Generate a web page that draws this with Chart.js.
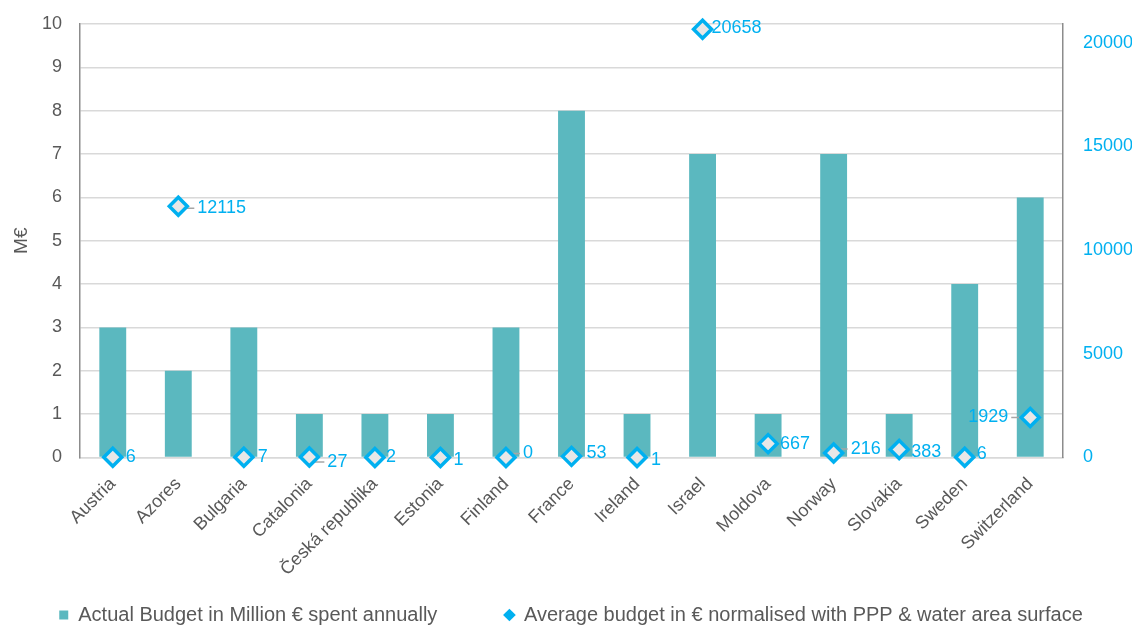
<!DOCTYPE html>
<html>
<head>
<meta charset="utf-8">
<script src="https://cdn.jsdelivr.net/npm/chart.js@4"></script>
<style>
  html, body { margin: 0; padding: 0; background: #ffffff; }
  #wrap { width: 1147px; height: 628px; position: relative; }
</style>
</head>
<body>
<div id="wrap"><canvas id="c" width="1147" height="628"></canvas></div>
<script>
const categories = ["Austria", "Azores", "Bulgaria", "Catalonia", "Česká republika", "Estonia", "Finland", "France", "Ireland", "Israel", "Moldova", "Norway", "Slovakia", "Sweden", "Switzerland"];
const actualBudget = [3, 2, 3, 1, 1, 1, 3, 8, 1, 7, 1, 7, 1, 4, 6];
const normalisedBudget = [6, 12115, 7, 27, 2, 1, 0, 53, 1, 20658, 667, 216, 383, 6, 1929];
const leftTicks = [0, 1, 2, 3, 4, 5, 6, 7, 8, 9, 10];
const rightTicks = [0, 5000, 10000, 15000, 20000];
const barLabel = "Actual Budget in Million € spent annually";
const pointLabel = "Average budget in € normalised with PPP & water area surface";

// label placement relative to each marker (dx, dy, align, leader line)
const labelOffsets = [
  [13, 0, 'left', false], [19, 2, 'left', true], [14, 0, 'left', false], [18, 5, 'left', true], [11, 0, 'left', false],
  [13, 3, 'left', false], [17, -4, 'left', true], [15, -3, 'left', false], [14, 3, 'left', false], [9, -1, 'left', false],
  [12, 0, 'left', false], [17, -4, 'left', true], [12, 3, 'left', false], [12, -3, 'left', false], [-22, 0, 'right', true]
];

const BLUE = '#00B0F0';
const TEAL = '#5BB8BF';
const GRAY = '#595959';
const FONT = "'Liberation Sans', Arial, sans-serif";

const pointLabelsPlugin = {
  id: 'pointLabels',
  afterDatasetDraw(chart, args) {
    if (args.index !== 0) return;
    const meta = chart.getDatasetMeta(1);
    const ctx = chart.ctx;
    ctx.save();
    ctx.strokeStyle = '#A6A6A6';
    ctx.lineWidth = 1.5;
    meta.data.forEach((pt, i) => {
      const off = labelOffsets[i];
      if (!off || !off[3]) return;
      const ex = pt.x + off[0] + (off[2] === 'left' ? -3 : 3);
      const ey = pt.y + off[1];
      ctx.beginPath();
      ctx.moveTo(pt.x, pt.y);
      if (off[1] !== 0) {
        ctx.lineTo(pt.x + Math.sign(off[0]) * 4, ey);
      }
      ctx.lineTo(ex, ey);
      ctx.stroke();
    });
    ctx.restore();
  },
  afterDatasetsDraw(chart) {
    const meta = chart.getDatasetMeta(1);
    const ctx = chart.ctx;
    ctx.save();
    ctx.font = "18px " + FONT;
    ctx.fillStyle = BLUE;
    ctx.textBaseline = 'middle';
    meta.data.forEach((pt, i) => {
      const off = labelOffsets[i] || [12, 0, 'left'];
      ctx.textAlign = off[2];
      ctx.fillText(String(normalisedBudget[i]), pt.x + off[0], pt.y + off[1]);
    });
    ctx.restore();
  }
};

new Chart(document.getElementById('c'), {
  data: {
    labels: categories,
    datasets: [
      {
        type: 'bar',
        label: barLabel,
        data: actualBudget,
        backgroundColor: TEAL,
        borderWidth: 0,
        yAxisID: 'y',
        categoryPercentage: 1.0,
        barPercentage: 0.41,
        order: 2,
        pointStyle: 'rect'
      },
      {
        type: 'line',
        label: pointLabel,
        data: normalisedBudget,
        showLine: false,
        yAxisID: 'y1',
        pointStyle: 'rectRot',
        pointRadius: 9,
        pointHoverRadius: 9,
        pointBorderWidth: 3.5,
        pointBorderColor: BLUE,
        pointBackgroundColor: '#E7E7E7',
        borderColor: BLUE,
        backgroundColor: BLUE,
        clip: false,
        order: 1
      }
    ]
  },
  options: {
    responsive: false,
    animation: false,
    layout: { autoPadding: false, padding: { left: 10, right: 15, top: 24, bottom: -7 } },
    plugins: {
      tooltip: { enabled: false },
      legend: {
        position: 'bottom',
        labels: {
          usePointStyle: true,
          boxWidth: 9,
          boxHeight: 9,
          padding: 12,
          color: GRAY,
          font: { family: FONT, size: 20 },
          generateLabels(chart) {
            return chart.data.datasets.map((ds, i) => ({
              text: ds.label + (i === 0 ? '          ' : ''),
              fillStyle: i === 0 ? TEAL : BLUE,
              strokeStyle: i === 0 ? TEAL : BLUE,
              lineWidth: 0,
              pointStyle: i === 0 ? 'rect' : 'rectRot',
              datasetIndex: i,
              fontColor: GRAY
            }));
          }
        }
      }
    },
    scales: {
      x: {
        grid: { display: false, drawTicks: false },
        border: { color: '#D9D9D9', width: 1.5 },
        ticks: {
          color: GRAY,
          font: { family: FONT, size: 18 },
          maxRotation: 45,
          minRotation: 45,
          padding: 16,
          autoSkip: false
        },
        afterFit(scale) {
          scale.paddingLeft = 0;
          scale.paddingRight = 0;
          scale.height -= 3;
        }
      },
      y: {
        position: 'left',
        min: 0,
        max: 10,
        afterBuildTicks(scale) { scale.ticks = leftTicks.map(v => ({ value: v })); },
        afterFit(scale) {
          scale.width = 70;
          scale.paddingTop = 0;
          scale.paddingBottom = 0;
        },
        grid: { color: '#D9D9D9', lineWidth: 1.5, drawTicks: false },
        border: { color: '#8C8C8C', width: 1.5 },
        ticks: {
          color: GRAY,
          font: { family: FONT, size: 18 },
          padding: 18
        },
        title: {
          display: true,
          text: 'M€',
          color: GRAY,
          font: { family: FONT, size: 19 },
          padding: { top: 0, bottom: 0 }
        }
      },
      y1: {
        position: 'right',
        min: 0,
        max: 20910,
        afterBuildTicks(scale) { scale.ticks = rightTicks.map(v => ({ value: v })); },
        afterFit(scale) {
          scale.width = 69;
          scale.paddingTop = 0;
          scale.paddingBottom = 0;
        },
        grid: { display: false, drawTicks: false },
        border: { color: '#8C8C8C', width: 1.5 },
        ticks: {
          color: BLUE,
          font: { family: FONT, size: 18 },
          padding: 20,
          callback: (v) => String(v)
        }
      }
    }
  },
  plugins: [pointLabelsPlugin]
});
</script>
</body>
</html>
